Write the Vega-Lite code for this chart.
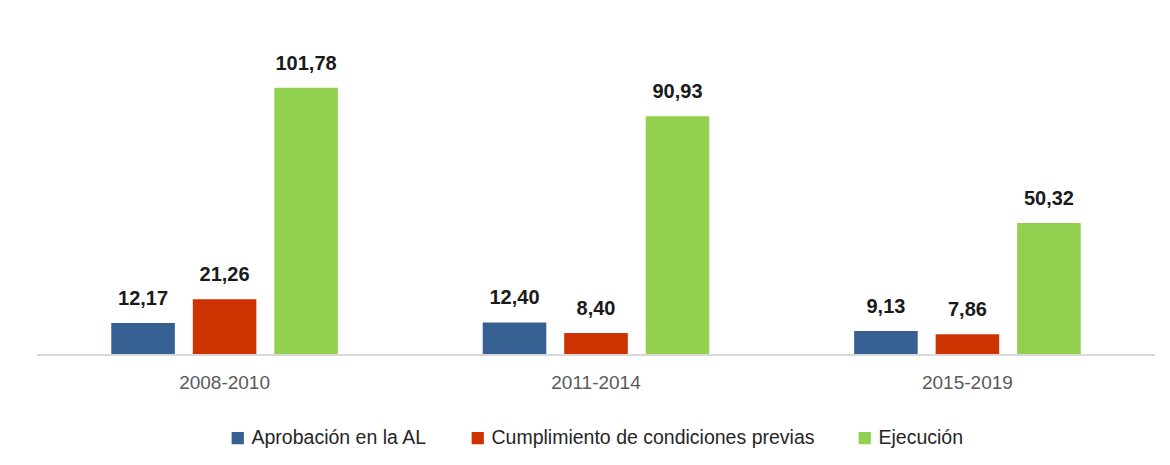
{
  "$schema": "https://vega.github.io/schema/vega-lite/v6.json",
  "width": 1118,
  "height": 315,
  "autosize": {"type": "none"},
  "padding": {"left": 37, "top": 40, "right": 15, "bottom": 110},
  "background": "white",
  "config": {
    "view": {"stroke": null},
    "font": "Liberation Sans",
    "legend": {"layout": {"bottom": {"anchor": "middle"}}},
    "locale": {"number": {"decimal": ",", "thousands": ".", "grouping": [3], "currency": ["", ""]}}
  },
  "data": {
    "values": [
      {"periodo": "2008-2010", "serie": "Aprobación en la AL", "valor": 12.17},
      {"periodo": "2008-2010", "serie": "Cumplimiento de condiciones previas", "valor": 21.26},
      {"periodo": "2008-2010", "serie": "Ejecución", "valor": 101.78},
      {"periodo": "2011-2014", "serie": "Aprobación en la AL", "valor": 12.40},
      {"periodo": "2011-2014", "serie": "Cumplimiento de condiciones previas", "valor": 8.40},
      {"periodo": "2011-2014", "serie": "Ejecución", "valor": 90.93},
      {"periodo": "2015-2019", "serie": "Aprobación en la AL", "valor": 9.13},
      {"periodo": "2015-2019", "serie": "Cumplimiento de condiciones previas", "valor": 7.86},
      {"periodo": "2015-2019", "serie": "Ejecución", "valor": 50.32}
    ]
  },
  "layer": [
    {
      "mark": {"type": "bar"},
      "encoding": {
        "x": {
          "field": "periodo", "type": "nominal",
          "scale": {"paddingInner": 0.39, "paddingOuter": 0.2},
          "axis": {"title": null, "labelAngle": 0, "ticks": false, "domain": false,
                   "labelFontSize": 19, "labelColor": "#595959", "labelPadding": 18}
        },
        "xOffset": {"field": "serie", "type": "nominal", "sort": ["Aprobación en la AL", "Cumplimiento de condiciones previas", "Ejecución"], "scale": {"paddingInner": 0.22}},
        "y": {"field": "valor", "type": "quantitative", "scale": {"domain": [0, 120]}, "axis": null},
        "color": {
          "field": "serie", "type": "nominal",
          "sort": ["Aprobación en la AL", "Cumplimiento de condiciones previas", "Ejecución"],
          "scale": {"range": ["#376092", "#cc3300", "#92d050"]},
          "legend": {"title": null, "orient": "bottom", "direction": "horizontal", "symbolType": "square",
                     "symbolSize": 150, "symbolStrokeWidth": 0, "labelFontSize": 19.5, "labelColor": "#262626",
                     "labelLimit": 0, "columnPadding": 40, "labelOffset": 4, "offset": 36}
        }
      }
    },
    {
      "mark": {"type": "rule", "color": "#d9d9d9", "strokeWidth": 2},
      "encoding": {"y": {"datum": 0}}
    },
    {
      "mark": {"type": "text", "baseline": "alphabetic", "dy": -18, "fontSize": 20, "fontWeight": "bold", "color": "#1a1a1a"},
      "encoding": {
        "x": {"field": "periodo", "type": "nominal"},
        "xOffset": {"field": "serie", "type": "nominal", "sort": ["Aprobación en la AL", "Cumplimiento de condiciones previas", "Ejecución"]},
        "y": {"field": "valor", "type": "quantitative"},
        "text": {"field": "valor", "type": "quantitative", "format": ".2f"}
      }
    }
  ]
}
